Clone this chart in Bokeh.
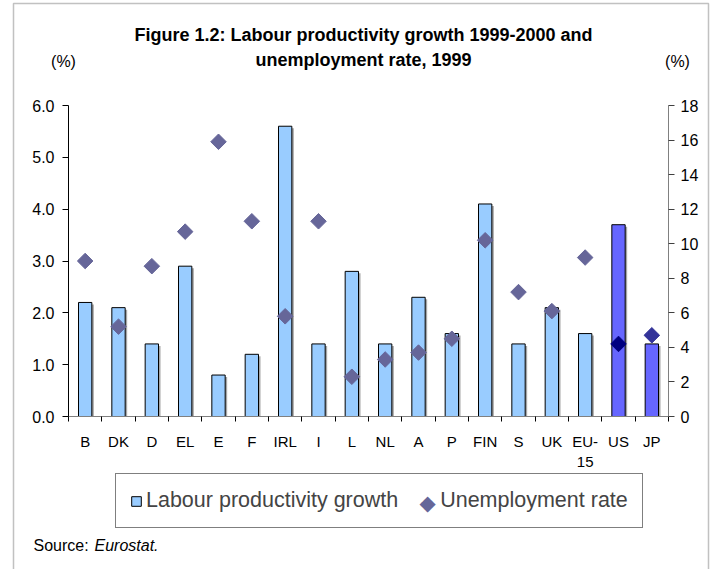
import numpy as np
from bokeh.plotting import figure
from bokeh.models import (Range1d, LinearAxis, FixedTicker, NumeralTickFormatter,
                          ColumnDataSource, Label, Legend, LegendItem, BoxAnnotation)
from bokeh.embed import file_html
from bokeh.resources import INLINE

# ---- data ----
categories = ["B", "DK", "D", "EL", "E", "F", "IRL", "I", "L", "NL", "A", "P",
              "FIN", "S", "UK", "EU-15", "US", "JP"]
category_labels = ["B", "DK", "D", "EL", "E", "F", "IRL", "I", "L", "NL", "A", "P",
                   "FIN", "S", "UK", "EU-\n15", "US", "JP"]
productivity_growth = [2.2, 2.1, 1.4, 2.9, 0.8, 1.2, 5.6, 1.4, 2.8, 1.4, 2.3, 1.6,
                       4.1, 1.4, 2.1, 1.6, 3.7, 1.4]
unemployment_rate = [9.0, 5.2, 8.7, 10.7, 15.9, 11.3, 5.8, 11.3, 2.3, 3.3, 3.7, 4.5,
                     10.2, 7.2, 6.1, 9.2, 4.2, 4.7]
left_ticks = [0, 1, 2, 3, 4, 5, 6]
right_ticks = [0, 2, 4, 6, 8, 10, 12, 14, 16, 18]

FONT = "Liberation Sans"
W, H = 715, 569
# plot-area placement inside the canvas (pixels)
PL, PR, PT, PB = 68, 668, 105, 416
SHADOW = 2  # px offset of the bar shadow
n = len(categories)
L_MAX = left_ticks[-1]
R_MAX = right_ticks[-1]

sx = (PR - PL) / n
sy = (PB - PT) / L_MAX
x_range = Range1d(-PL / sx, n + (W - PR) / sx)
y_range = Range1d(-(H - PB) / sy, L_MAX + PT / sy)
ratio = R_MAX / L_MAX
y_right = Range1d(y_range.start * ratio, y_range.end * ratio)
x_shadow = Range1d(x_range.start - SHADOW / sx, x_range.end - SHADOW / sx)
y_shadow = Range1d(y_range.start + SHADOW / sy, y_range.end + SHADOW / sy)

xpos = [i + 0.5 for i in range(n)]
bar_colors = ["#6666FF" if c in ("US", "JP") else "#99CCFF" for c in categories]
dia_colors = [{"US": "#000080", "JP": "#333399"}.get(c, "#666699") for c in categories]

src = ColumnDataSource(dict(x=xpos, prod=productivity_growth, unemp=unemployment_rate,
                            bcol=bar_colors, dcol=dia_colors))

p = figure(width=W, height=H, x_range=x_range, y_range=y_range,
           output_backend="svg", toolbar_location=None,
           x_axis_location=None, y_axis_location=None,
           min_border=0, min_border_left=0, min_border_right=0,
           min_border_top=0, min_border_bottom=0)
p.extra_y_ranges = {"right": y_right, "shadow": y_shadow}
p.extra_x_ranges = {"shadow": x_shadow}
p.outline_line_color = None
p.background_fill_color = "white"
p.border_fill_color = "white"
p.xgrid.visible = False
p.ygrid.visible = False

# outer border
p.add_layout(BoxAnnotation(left=13, right=708, top=H - 3, bottom=-10,
                           left_units="screen", right_units="screen",
                           top_units="screen", bottom_units="screen",
                           fill_color=None, fill_alpha=0, line_color="#333333",
                           line_width=1.5, level="underlay"))

# grey drop shadow of each bar, then the bars
p.vbar(x="x", top="prod", bottom=SHADOW / sy, width=0.4, source=src,
       x_range_name="shadow", y_range_name="shadow",
       fill_color="#a6a6a6", line_color=None)
bars = p.vbar(x="x", top="prod", width=0.4, source=src, fill_color="bcol",
              line_color="black", line_width=1)
dias = p.scatter(x="x", y="unemp", y_range_name="right", marker="square", size=11,
                 angle=np.pi / 4, fill_color="dcol", line_color="dcol", source=src)

# axes
xaxis = LinearAxis(ticker=FixedTicker(ticks=xpos, minor_ticks=list(range(n + 1))),
                   major_label_overrides={x: l for x, l in zip(xpos, category_labels)},
                   fixed_location=0, bounds=(0, n))
xaxis.axis_line_color = "#808080"
xaxis.major_tick_out = 0
xaxis.major_tick_in = 0
xaxis.minor_tick_out = 5
xaxis.minor_tick_in = 0
xaxis.minor_tick_line_color = "black"
xaxis.major_label_standoff = 11
xaxis.major_label_text_font = FONT
xaxis.major_label_text_font_size = "15px"
xaxis.major_label_text_color = "black"
p.add_layout(xaxis, "below")

laxis = LinearAxis(ticker=FixedTicker(ticks=left_ticks, minor_ticks=[]),
                   formatter=NumeralTickFormatter(format="0.0"),
                   fixed_location=0, bounds=(0, L_MAX))
laxis.axis_line_color = "black"
laxis.major_tick_out = 6
laxis.major_tick_in = 0
laxis.major_tick_line_color = "black"
laxis.major_label_standoff = 8
laxis.major_label_text_font = FONT
laxis.major_label_text_font_size = "16px"
laxis.major_label_text_color = "black"
p.add_layout(laxis, "left")

raxis = LinearAxis(y_range_name="right", ticker=FixedTicker(ticks=right_ticks, minor_ticks=[]),
                   fixed_location=n, bounds=(0, R_MAX))
raxis.axis_line_color = "#808080"
raxis.major_tick_out = 6
raxis.major_tick_in = 0
raxis.major_tick_line_color = "#404040"
raxis.major_label_standoff = 6
raxis.major_label_text_font = FONT
raxis.major_label_text_font_size = "16px"
raxis.major_label_text_color = "black"
p.add_layout(raxis, "right")

# legend (the diamond swatch is drawn as a text glyph, since legend markers ignore rotation)
legend = Legend(items=[LegendItem(label="Labour productivity growth", renderers=[bars], index=0),
                       LegendItem(label="Unemployment rate", renderers=[])],
                orientation="horizontal", location=(115, H - 528), margin=0, padding=14,
                glyph_width=12, glyph_height=12, label_standoff=4, spacing=26,
                label_text_font=FONT, label_text_font_size="21.5px", label_height=25,
                border_line_color="black", border_line_width=1,
                background_fill_color="white", background_fill_alpha=0)
p.add_layout(legend, "center")


# texts (screen units: x from left, y up from bottom of canvas)
def lab(x, y, text, size, style="normal", align="left", baseline="middle",
        font=FONT, color="black"):
    p.add_layout(Label(x=x, y=H - y, x_units="screen", y_units="screen", text=text,
                       text_align=align, text_baseline=baseline, text_font=font,
                       text_font_size=size, text_font_style=style, text_color=color))

lab(427, 502, "\u25C6", "21px", align="center", font="DejaVu Sans", color="#666699")
lab(363, 34, "Figure 1.2: Labour productivity growth 1999-2000 and", "18px", "bold", "center")
lab(363, 59, "unemployment rate, 1999", "18px", "bold", "center")
lab(63, 61, "(%)", "16px", align="center")
lab(677, 61, "(%)", "16px", align="center")
lab(33, 545, "Source:", "16px")
lab(94, 545, "Eurostat.", "16px", "italic")

open("out.html", "w").write(file_html(p, INLINE))
